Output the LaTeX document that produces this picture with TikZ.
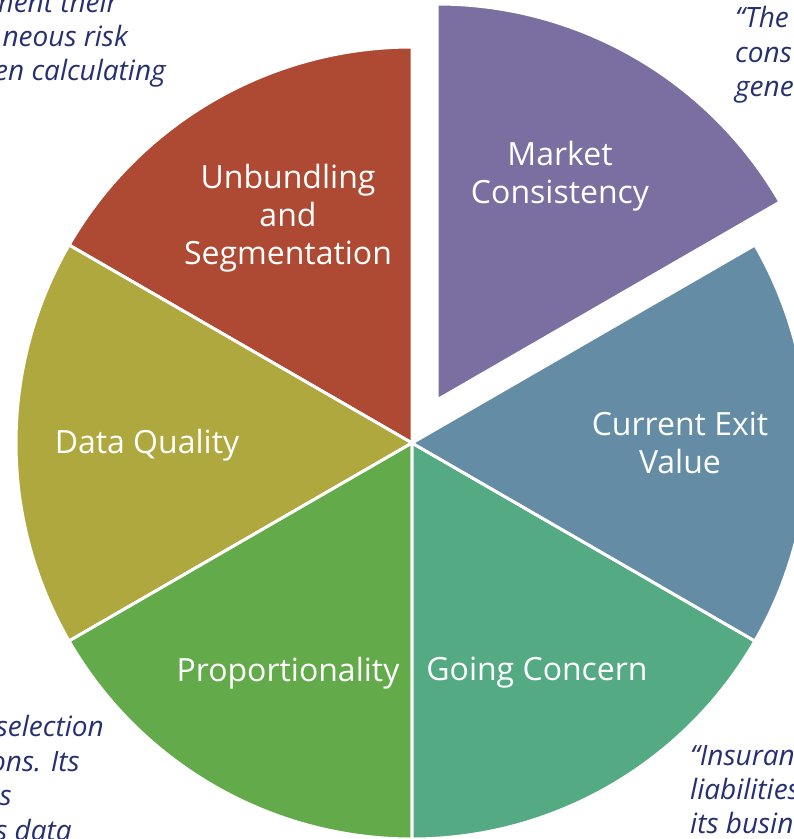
\documentclass[tikz,border=0pt]{standalone}
\usepackage{fontspec}
\setmainfont{Open Sans}
\definecolor{cMarket}{RGB}{122,111,160}
\definecolor{cExit}{RGB}{100,141,165}
\definecolor{cGoing}{RGB}{84,170,131}
\definecolor{cProp}{RGB}{99,170,75}
\definecolor{cData}{RGB}{174,168,63}
\definecolor{cUnb}{RGB}{174,74,52}
\definecolor{navy}{RGB}{38,48,112}
\tikzset{
  slice/.style={draw=white, line width=3pt, line join=miter},
  lbl/.style={text=white, font=\fontsize{32}{38}\selectfont, align=center, inner sep=0pt},
  quote/.style={text=navy, font=\fontsize{28}{34}\selectfont\itshape, anchor=base west, inner sep=0pt},
  quoteR/.style={text=navy, font=\fontsize{28}{34}\selectfont\itshape, anchor=base east, inner sep=0pt}
}
\begin{document}
\begin{tikzpicture}[x=1pt,y=-1pt]
\useasboundingbox (0,0) rectangle (794,839);
\clip (0,0) rectangle (794,839);
\coordinate (C) at (412,443);
\coordinate (CM) at (437,400);
\def\R{396}
% slices (visual angle theta -> polar -theta because y is flipped)
\fill[cUnb,slice]  (C) -- ++(-90:\R) arc[start angle=-90, end angle=-150, radius=\R] -- cycle;
\fill[cData,slice] (C) -- ++(-150:\R) arc[start angle=-150, end angle=-210, radius=\R] -- cycle;
\fill[cProp,slice] (C) -- ++(-210:\R) arc[start angle=-210, end angle=-270, radius=\R] -- cycle;
\fill[cGoing,slice] (C) -- ++(-270:\R) arc[start angle=-270, end angle=-330, radius=\R] -- cycle;
\fill[cExit,slice] (C) -- ++(-330:\R) arc[start angle=-330, end angle=-390, radius=\R] -- cycle;
\fill[cMarket,slice] (CM) -- ++(-30:\R) arc[start angle=-30, end angle=-90, radius=\R] -- cycle;

% labels
\node[lbl] (market) at (560,176) {Market\\Consistency};
\node[lbl] (unb) at (288,218) {Unbundling\\and\\Segmentation};
\node[lbl] (exit) at (680,443) {Current Exit\\Value};
\node[lbl] (dq) at (147,445) {Data Quality};
\node[lbl] (prop) at (288,673) {Proportionality};
\node[lbl] (going) at (537,673) {Going Concern};

% cut-off quotes
\node[quoteR] (tl1) at (118,12) {ment their};
\node[quoteR] (tl2) at (128,46) {neous risk};
\node[quoteR] (tl3) at (166,80) {en calculating};

\node[quote] (tr1) at (735,27) {“The};
\node[quote] (tr2) at (735,62) {cons};
\node[quote] (tr3) at (735,96) {gene};

\node[quoteR] (bl1) at (104,736) {selection};
\node[quoteR] (bl2) at (80,771) {ons. Its};
\node[quoteR] (bl3) at (12,805) {s};
\node[quoteR] (bl4) at (72,840) {s data};

\node[quote] (br1) at (690,765) {“Insuran};
\node[quote] (br2) at (690,799) {liabilities};
\node[quote] (br3) at (690,833) {its busin};
\end{tikzpicture}
\end{document}
